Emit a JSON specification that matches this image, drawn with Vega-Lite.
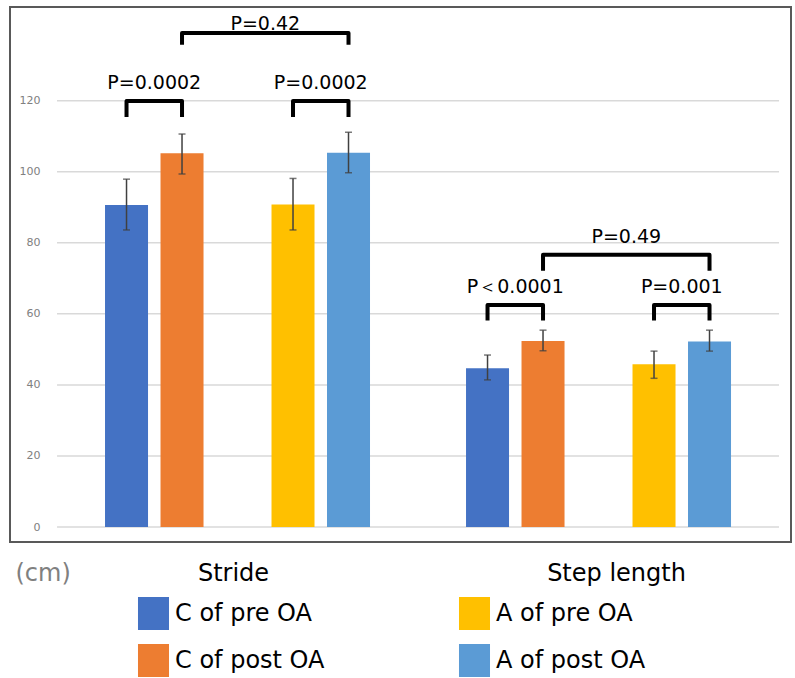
{
  "$schema": "https://vega.github.io/schema/vega-lite/v6.json",
  "width": 781,
  "height": 535,
  "autosize": "none",
  "padding": {"left": 10, "top": 7, "right": 4, "bottom": 136},
  "background": "white",
  "config": {
    "view": {"stroke": "#595959", "strokeWidth": 2},
    "font": "DejaVu Sans"
  },
  "datasets": {
    "bars": [
      {"group": "Stride", "series": "C of pre OA", "value": 90.6, "lo": 83.6, "hi": 97.9},
      {"group": "Stride", "series": "C of post OA", "value": 105.2, "lo": 99.35, "hi": 110.6},
      {"group": "Stride", "series": "A of pre OA", "value": 90.8, "lo": 83.6, "hi": 98.1},
      {"group": "Stride", "series": "A of post OA", "value": 105.35, "lo": 99.7, "hi": 111.1},
      {"group": "Step length", "series": "C of pre OA", "value": 44.7, "lo": 41.4, "hi": 48.4},
      {"group": "Step length", "series": "C of post OA", "value": 52.35, "lo": 49.6, "hi": 55.4},
      {"group": "Step length", "series": "A of pre OA", "value": 45.8, "lo": 41.85, "hi": 49.5},
      {"group": "Step length", "series": "A of post OA", "value": 52.2, "lo": 49.5, "hi": 55.4}
    ],
    "grid": [{"v": 0}, {"v": 20}, {"v": 40}, {"v": 60}, {"v": 80}, {"v": 100}, {"v": 120}],
    "brackets": [
      {"id": "b1", "group": "Stride", "slot": "C of pre OA", "y": 115.4, "seq": 0},
      {"id": "b1", "group": "Stride", "slot": "C of pre OA", "y": 119.9, "seq": 1},
      {"id": "b1", "group": "Stride", "slot": "C of post OA", "y": 119.9, "seq": 2},
      {"id": "b1", "group": "Stride", "slot": "C of post OA", "y": 115.4, "seq": 3},
      {"id": "b2", "group": "Stride", "slot": "A of pre OA", "y": 115.4, "seq": 0},
      {"id": "b2", "group": "Stride", "slot": "A of pre OA", "y": 119.9, "seq": 1},
      {"id": "b2", "group": "Stride", "slot": "A of post OA", "y": 119.9, "seq": 2},
      {"id": "b2", "group": "Stride", "slot": "A of post OA", "y": 115.4, "seq": 3},
      {"id": "b3", "group": "Stride", "slot": "C of post OA", "y": 135.7, "seq": 0},
      {"id": "b3", "group": "Stride", "slot": "C of post OA", "y": 139.0, "seq": 1},
      {"id": "b3", "group": "Stride", "slot": "A of post OA", "y": 139.0, "seq": 2},
      {"id": "b3", "group": "Stride", "slot": "A of post OA", "y": 135.7, "seq": 3},
      {"id": "b4", "group": "Step length", "slot": "C of pre OA", "y": 58.1, "seq": 0},
      {"id": "b4", "group": "Step length", "slot": "C of pre OA", "y": 62.5, "seq": 1},
      {"id": "b4", "group": "Step length", "slot": "C of post OA", "y": 62.5, "seq": 2},
      {"id": "b4", "group": "Step length", "slot": "C of post OA", "y": 58.1, "seq": 3},
      {"id": "b5", "group": "Step length", "slot": "A of pre OA", "y": 58.1, "seq": 0},
      {"id": "b5", "group": "Step length", "slot": "A of pre OA", "y": 62.5, "seq": 1},
      {"id": "b5", "group": "Step length", "slot": "A of post OA", "y": 62.5, "seq": 2},
      {"id": "b5", "group": "Step length", "slot": "A of post OA", "y": 58.1, "seq": 3},
      {"id": "b6", "group": "Step length", "slot": "C of post OA", "y": 72.1, "seq": 0},
      {"id": "b6", "group": "Step length", "slot": "C of post OA", "y": 76.6, "seq": 1},
      {"id": "b6", "group": "Step length", "slot": "A of post OA", "y": 76.6, "seq": 2},
      {"id": "b6", "group": "Step length", "slot": "A of post OA", "y": 72.1, "seq": 3}
    ],
    "pvals": [
      {"group": "Stride", "slot": "C of pre OA", "y": 123.3, "label": "P=0.0002"},
      {"group": "Stride", "slot": "A of pre OA", "y": 123.3, "label": "P=0.0002"},
      {"group": "Stride", "slot": "gap", "y": 140.0, "label": "P=0.42"},
      {"group": "Step length", "slot": "C of pre OA", "y": 65.9, "label": "P＜0.0001"},
      {"group": "Step length", "slot": "A of pre OA", "y": 65.9, "label": "P=0.001"},
      {"group": "Step length", "slot": "gap", "y": 80.0, "label": "P=0.49"}
    ]
  },
  "layer": [
    {
      "data": {"name": "grid"},
      "mark": {"type": "rule", "color": "#d9d9d9", "strokeWidth": 1.5},
      "encoding": {
        "x": {"datum": "Stride", "bandPosition": 0, "type": "nominal",
              "scale": {"type": "band", "domain": ["Stride", "Step length"], "paddingInner": 0, "paddingOuter": 0.0817, "align": 0.797}},
        "x2": {"datum": "Step length", "bandPosition": 1},
        "y": {"field": "v", "type": "quantitative",
              "scale": {"domain": [-4.22, 146.35], "nice": false, "zero": false}}
      }
    },
    {
      "data": {"name": "bars"},
      "mark": {"type": "bar"},
      "encoding": {
        "x": {"field": "group", "type": "nominal", "sort": ["Stride", "Step length"],
              "scale": {"type": "band", "domain": ["Stride", "Step length"], "paddingInner": 0, "paddingOuter": 0.0817, "align": 0.797},
              "axis": {"title": null, "domain": false, "ticks": false, "tickSize": 0, "labelAngle": 0, "labelAlign": "center",
                       "labelFontSize": 24, "labelFont": "DejaVu Sans", "labelColor": "black",
                       "labelBaseline": "alphabetic", "labelPadding": 38,
                       "labelOffset": {"condition": {"test": "datum.value === 'Step length'", "value": 18}, "value": -4}}},
        "xOffset": {"field": "series", "type": "nominal",
                    "scale": {"type": "band", "domain": ["C of pre OA", "C of post OA", "gap", "A of pre OA", "A of post OA"], "paddingInner": 0.225, "paddingOuter": 0.865}},
        "y": {"field": "value", "type": "quantitative",
              "scale": {"domain": [-4.22, 146.35], "nice": false, "zero": false},
              "axis": {"values": [0, 20, 40, 60, 80, 100, 120], "grid": false, "domain": false, "ticks": false, "tickSize": 0,
                       "offset": -32, "labelPadding": 2, "labelFontSize": 11, "labelColor": "#808080", "labelFont": "DejaVu Sans",
                       "title": "(cm)", "titleAngle": 0, "titleX": -27, "titleY": 573, "titleAlign": "left", "titleBaseline": "alphabetic",
                       "titleFontSize": 24, "titleFontWeight": "normal", "titleColor": "#808080", "titleFont": "DejaVu Sans"}},
        "y2": {"datum": 0},
        "color": {"field": "series", "type": "nominal",
                  "scale": {"domain": ["C of pre OA", "A of pre OA", "C of post OA", "A of post OA"],
                            "range": ["#4472C4", "#FFC000", "#ED7D31", "#5B9BD5"]},
                  "legend": {"orient": "none", "legendX": 127, "legendY": 590, "columns": 2, "direction": "horizontal",
                             "title": null, "symbolType": "M-0.94,-1H0.94V1H-0.94Z", "symbolSize": 1089, "symbolStrokeWidth": 0,
                             "labelFontSize": 24, "labelFont": "DejaVu Sans", "labelColor": "black", "labelOffset": 5,
                             "rowPadding": 14, "columnPadding": 133, "padding": 0, "labelLimit": 0}}
      }
    },
    {
      "data": {"name": "bars"},
      "mark": {"type": "rule", "color": "#404040", "strokeWidth": 1.5},
      "encoding": {
        "x": {"field": "group", "type": "nominal"},
        "xOffset": {"field": "series", "type": "nominal"},
        "y": {"field": "lo", "type": "quantitative"},
        "y2": {"field": "hi"}
      }
    },
    {
      "data": {"name": "bars"},
      "mark": {"type": "tick", "color": "#404040", "thickness": 1.5, "size": 7},
      "encoding": {
        "x": {"field": "group", "type": "nominal"},
        "xOffset": {"field": "series", "type": "nominal"},
        "y": {"field": "lo", "type": "quantitative"}
      }
    },
    {
      "data": {"name": "bars"},
      "mark": {"type": "tick", "color": "#404040", "thickness": 1.5, "size": 7},
      "encoding": {
        "x": {"field": "group", "type": "nominal"},
        "xOffset": {"field": "series", "type": "nominal"},
        "y": {"field": "hi", "type": "quantitative"}
      }
    },
    {
      "data": {"name": "brackets"},
      "mark": {"type": "line", "color": "black", "strokeWidth": 4, "strokeJoin": "round", "strokeCap": "butt"},
      "encoding": {
        "x": {"field": "group", "type": "nominal"},
        "xOffset": {"field": "slot", "type": "nominal"},
        "y": {"field": "y", "type": "quantitative"},
        "detail": {"field": "id"},
        "order": {"field": "seq", "type": "quantitative"}
      }
    },
    {
      "data": {"name": "pvals"},
      "mark": {"type": "text", "dx": 27.75, "fontSize": 19, "font": "DejaVu Sans", "baseline": "alphabetic", "align": "center", "color": "black"},
      "encoding": {
        "x": {"field": "group", "type": "nominal"},
        "xOffset": {"field": "slot", "type": "nominal"},
        "y": {"field": "y", "type": "quantitative"},
        "text": {"field": "label"}
      }
    }
  ]
}
